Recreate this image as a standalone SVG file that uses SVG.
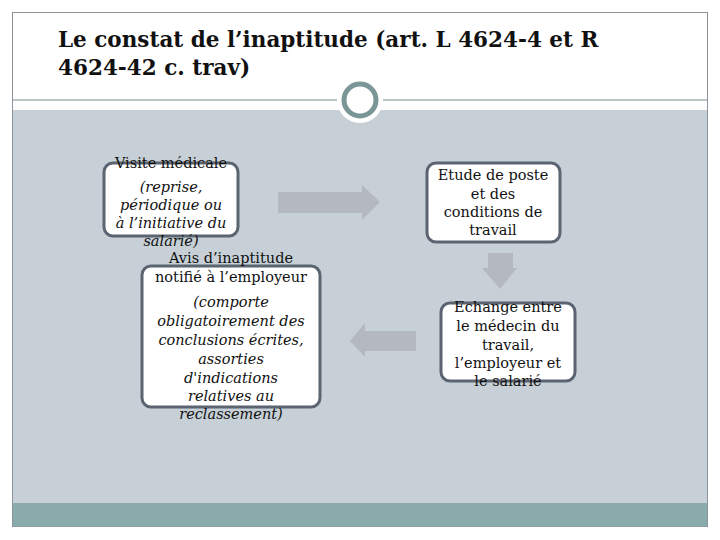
<svg xmlns="http://www.w3.org/2000/svg" width="720" height="540" viewBox="0 0 720 540">
<style>
.title{font-family:"DejaVu Serif","Liberation Serif",serif;font-size:21.5px;font-weight:bold;fill:#111}
.box{fill:#fff;stroke:#5b6470;stroke-width:3}
.t{font-family:"DejaVu Serif","Liberation Serif",serif;font-size:14.5px;fill:#111;text-anchor:middle}
.i{font-style:italic}
.arr{fill:#b3b8c1}
</style>
<rect x="0" y="0" width="720" height="540" fill="#fff"/>
<rect x="12.5" y="12.5" width="695" height="514" fill="#fff" stroke="#8a949a" stroke-width="1"/>
<rect x="13" y="110" width="694" height="393" fill="#c6d0d6"/>
<rect x="13" y="503" width="694" height="23.5" fill="#8aabab"/>
<line x1="13" y1="100" x2="707" y2="100" stroke="#7f8b8f" stroke-width="1.2"/>
<circle cx="360" cy="100" r="23" fill="#fff"/>
<circle cx="360" cy="100" r="16" fill="#fff" stroke="#7a9697" stroke-width="5"/>
<text class="title" x="58" y="47">Le constat de l’inaptitude (art. L 4624-4 et R</text>
<text class="title" x="58" y="75">4624-42 c. trav)</text>
<g id="connectors">
<polygon class="arr" points="278,192 362,192 362,185 380,202 362,220 362,213 278,213"/>
<polygon class="arr" points="488,253 513,253 513,268 517,268 500,289 482,268 488,268"/>
<polygon class="arr" points="416,331 365,331 365,323 350,341 365,357 365,351 416,351"/>
</g>
<g id="node1">
<rect class="box" x="104" y="163" width="134" height="73" rx="9"/>
<text class="t" x="171" y="168">Visite médicale</text>
<text class="t i" x="171" y="192">(reprise,</text>
<text class="t i" x="171" y="210">périodique ou</text>
<text class="t i" x="171" y="228">à l’initiative du</text>
<text class="t i" x="171" y="246">salarié)</text>
</g>
<g id="node2">
<rect class="box" x="142" y="266" width="178" height="141" rx="9"/>
<text class="t" x="231" y="263">Avis d’inaptitude</text>
<text class="t" x="231" y="282">notifié à l’employeur</text>
<text class="t i" x="231" y="307">(comporte</text>
<text class="t i" x="231" y="326">obligatoirement des</text>
<text class="t i" x="231" y="345">conclusions écrites,</text>
<text class="t i" x="231" y="364">assorties</text>
<text class="t i" x="231" y="383">d'indications</text>
<text class="t i" x="231" y="401">relatives au</text>
<text class="t i" x="231" y="419">reclassement)</text>
</g>
<g id="node3">
<rect class="box" x="427" y="163" width="133" height="79" rx="9"/>
<text class="t" x="493" y="180">Etude de poste</text>
<text class="t" x="493" y="199">et des</text>
<text class="t" x="493" y="217">conditions de</text>
<text class="t" x="493" y="235">travail</text>
</g>
<g id="node4">
<rect class="box" x="441" y="303" width="134" height="78" rx="9"/>
<text class="t" x="508" y="312">Echange entre</text>
<text class="t" x="508" y="331">le médecin du</text>
<text class="t" x="508" y="350">travail,</text>
<text class="t" x="508" y="368">l’employeur et</text>
<text class="t" x="508" y="386">le salarié</text>
</g>
</svg>
